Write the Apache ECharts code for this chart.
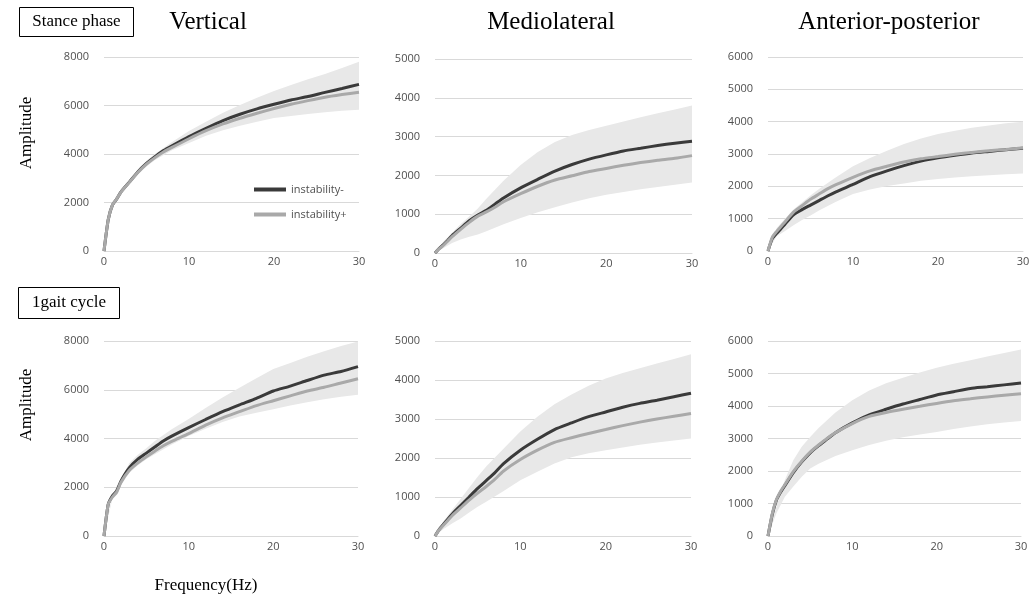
<!DOCTYPE html>
<html>
<head>
<meta charset="utf-8">
<script src="https://cdn.jsdelivr.net/npm/echarts@6/dist/echarts.min.js"></script>
<style>
html,body{margin:0;padding:0;background:#fff;}
#main{width:1036px;height:601px;}
</style>
</head>
<body>
<div id="main"></div>
<script>
// Frequency grid (Hz) for the mean lines
const freq = [0, 0.5, 1, 1.5, 2, 3, 4, 5, 6, 7, 8, 10, 12, 14, 16, 18, 20, 22, 24, 26, 28, 30];
// Frequency grid (Hz) for the shaded band
const bandFreq = [0, 1, 2, 3, 4, 5, 6, 8, 10, 12, 14, 16, 18, 20, 22, 24, 26, 28, 30];

const xTicks = [0, 10, 20, 30];
const colTitles = ['Vertical', 'Mediolateral', 'Anterior-posterior'];
const rowLabels = ['Stance phase', '1gait cycle'];
const seriesNames = ['instability-', 'instability+'];
const yMax = [8000, 5000, 6000];
const yStep = [2000, 1000, 1000];

// Stance phase - Vertical
const stanceVertNeg = [0, 1300, 1900, 2150, 2440, 2850, 3270, 3610, 3890, 4140, 4340, 4720, 5060, 5380, 5640, 5860, 6050, 6230, 6370, 6540, 6700, 6870];
const stanceVertPos = [0, 1300, 1900, 2150, 2430, 2840, 3250, 3580, 3850, 4080, 4270, 4630, 4960, 5240, 5475, 5680, 5875, 6050, 6200, 6340, 6450, 6550];
const stanceVertHi  = [0, 1950, 2500, 2920, 3330, 3720, 4000, 4500, 4950, 5330, 5700, 6020, 6320, 6600, 6850, 7080, 7300, 7550, 7800];
const stanceVertLo  = [0, 1850, 2380, 2780, 3150, 3480, 3750, 4150, 4450, 4750, 4980, 5170, 5330, 5480, 5570, 5650, 5720, 5780, 5820];

// Stance phase - Mediolateral
const stanceMLNeg = [0, 120, 220, 330, 450, 640, 830, 980, 1100, 1260, 1420, 1680, 1900, 2110, 2280, 2420, 2530, 2630, 2700, 2770, 2830, 2880];
const stanceMLPos = [0, 110, 200, 310, 420, 610, 790, 950, 1060, 1180, 1320, 1530, 1720, 1880, 1990, 2100, 2180, 2260, 2330, 2390, 2440, 2510];
const stanceMLHi  = [0, 300, 520, 750, 940, 1150, 1400, 1860, 2270, 2600, 2860, 3040, 3170, 3280, 3390, 3500, 3600, 3700, 3800];
const stanceMLLo  = [0, 130, 260, 350, 420, 480, 560, 740, 900, 1050, 1180, 1300, 1410, 1500, 1570, 1640, 1700, 1760, 1820];

// Stance phase - Anterior-posterior
const stanceAPNeg = [0, 380, 540, 680, 830, 1120, 1280, 1420, 1560, 1700, 1830, 2060, 2300, 2480, 2640, 2780, 2880, 2960, 3030, 3080, 3130, 3180];
const stanceAPPos = [0, 420, 600, 750, 900, 1200, 1400, 1600, 1760, 1920, 2050, 2280, 2480, 2620, 2750, 2850, 2920, 2990, 3050, 3100, 3140, 3190];
const stanceAPHi  = [0, 700, 1000, 1280, 1500, 1720, 1920, 2280, 2620, 2880, 3100, 3310, 3480, 3620, 3720, 3810, 3880, 3950, 4000];
const stanceAPLo  = [0, 450, 620, 800, 960, 1100, 1250, 1520, 1760, 1900, 2010, 2090, 2170, 2230, 2270, 2310, 2340, 2370, 2400];

// 1 gait cycle - Vertical
const gaitVertNeg = [0, 1300, 1650, 1850, 2250, 2800, 3150, 3400, 3650, 3900, 4100, 4450, 4780, 5100, 5380, 5650, 5950, 6150, 6380, 6600, 6750, 6950];
const gaitVertPos = [0, 1300, 1600, 1800, 2200, 2700, 3000, 3250, 3480, 3700, 3880, 4200, 4550, 4850, 5100, 5350, 5550, 5750, 5950, 6100, 6280, 6450];
const gaitVertHi  = [0, 1700, 2350, 3000, 3330, 3600, 3900, 4380, 4800, 5250, 5680, 6080, 6470, 6850, 7100, 7350, 7580, 7790, 7980];
const gaitVertLo  = [0, 1550, 2100, 2600, 2900, 3150, 3350, 3750, 4100, 4400, 4680, 4900, 5060, 5200, 5350, 5490, 5610, 5710, 5790];

// 1 gait cycle - Mediolateral
const gaitMLNeg = [0, 170, 300, 430, 560, 780, 1000, 1220, 1420, 1620, 1850, 2200, 2480, 2730, 2900, 3060, 3180, 3300, 3400, 3480, 3570, 3660];
const gaitMLPos = [0, 160, 280, 400, 520, 720, 920, 1100, 1270, 1450, 1660, 1960, 2200, 2400, 2520, 2630, 2730, 2830, 2920, 3000, 3070, 3140];
const gaitMLHi  = [0, 380, 665, 950, 1240, 1520, 1780, 2230, 2680, 3060, 3380, 3630, 3850, 4040, 4180, 4300, 4420, 4540, 4660];
const gaitMLLo  = [0, 180, 320, 450, 600, 750, 880, 1150, 1430, 1650, 1860, 2020, 2120, 2200, 2270, 2340, 2400, 2450, 2500];

// 1 gait cycle - Anterior-posterior
const gaitAPNeg = [0, 650, 1100, 1350, 1550, 1950, 2280, 2560, 2780, 2980, 3180, 3480, 3730, 3900, 4060, 4200, 4340, 4440, 4540, 4590, 4650, 4710];
const gaitAPPos = [0, 680, 1120, 1380, 1580, 1980, 2300, 2580, 2800, 3000, 3180, 3460, 3680, 3800, 3900, 3990, 4080, 4160, 4220, 4280, 4330, 4380];
const gaitAPHi  = [0, 900, 1720, 2330, 2750, 3050, 3320, 3800, 4180, 4480, 4700, 4870, 5030, 5180, 5300, 5410, 5520, 5630, 5740];
const gaitAPLo  = [0, 700, 1210, 1520, 1820, 2080, 2220, 2460, 2640, 2800, 2930, 3040, 3120, 3200, 3290, 3370, 3440, 3490, 3540];

const panels = [
  {neg: stanceVertNeg, pos: stanceVertPos, hi: stanceVertHi, lo: stanceVertLo, col: 0},
  {neg: stanceMLNeg, pos: stanceMLPos, hi: stanceMLHi, lo: stanceMLLo, col: 1},
  {neg: stanceAPNeg, pos: stanceAPPos, hi: stanceAPHi, lo: stanceAPLo, col: 2},
  {neg: gaitVertNeg, pos: gaitVertPos, hi: gaitVertHi, lo: gaitVertLo, col: 0},
  {neg: gaitMLNeg, pos: gaitMLPos, hi: gaitMLHi, lo: gaitMLLo, col: 1},
  {neg: gaitAPNeg, pos: gaitAPPos, hi: gaitAPHi, lo: gaitAPLo, col: 2}
];

// Layout (pixels)
const gridBoxes = [
  {left: 104, top: 57, width: 255, height: 194},
  {left: 435, top: 59, width: 257, height: 194},
  {left: 768, top: 57, width: 255, height: 194},
  {left: 104, top: 341, width: 254, height: 195},
  {left: 435, top: 341, width: 256, height: 195},
  {left: 768, top: 341, width: 253, height: 195}
];

const AXIS_FONT = 'Open Sans';
const SERIF = 'Liberation Serif';
const TICK_COLOR = '#505050';
const GRID_COLOR = '#d9d9d9';
const NEG_COLOR = '#3a3a3a';
const POS_COLOR = '#a9a9a9';
const BAND_COLOR = '#e8e8e8';

const grids = [], xAxes = [], yAxes = [], series = [];
panels.forEach((p, i) => {
  grids.push(Object.assign({containLabel: false}, gridBoxes[i]));
  xAxes.push({
    type: 'value', gridIndex: i, min: 0, max: 30, interval: 10,
    axisLine: {show: true, lineStyle: {color: GRID_COLOR, width: 1}},
    axisTick: {show: false},
    splitLine: {show: false},
    axisLabel: {color: TICK_COLOR, fontFamily: AXIS_FONT, fontSize: 11, margin: 5,
      formatter: v => xTicks.indexOf(v) >= 0 ? String(v) : ''}
  });
  yAxes.push({
    type: 'value', gridIndex: i, min: 0, max: yMax[p.col], interval: yStep[p.col],
    axisLine: {show: false}, axisTick: {show: false},
    splitLine: {show: true, lineStyle: {color: GRID_COLOR, width: 1}},
    axisLabel: {color: TICK_COLOR, fontFamily: AXIS_FONT, fontSize: 11, margin: 15,
      formatter: v => String(v)}
  });
  const hi = p.hi, lo = p.lo;
  series.push({
    type: 'custom', xAxisIndex: i, yAxisIndex: i, silent: true, z: 1,
    data: [[0, 0]],
    renderItem: function (params, api) {
      const pts = [];
      for (let k = 0; k < bandFreq.length; k++) pts.push(api.coord([bandFreq[k], hi[k]]));
      for (let k = bandFreq.length - 1; k >= 0; k--) pts.push(api.coord([bandFreq[k], lo[k]]));
      return {type: 'polygon', shape: {points: pts}, style: {fill: BAND_COLOR, stroke: 'none'}};
    }
  });
  series.push({
    name: seriesNames[0], type: 'line', xAxisIndex: i, yAxisIndex: i, z: 3,
    data: freq.map((f, k) => [f, p.neg[k]]),
    showSymbol: false, symbol: 'none', smooth: 0.2,
    lineStyle: {color: NEG_COLOR, width: 3}, itemStyle: {color: NEG_COLOR}
  });
  series.push({
    name: seriesNames[1], type: 'line', xAxisIndex: i, yAxisIndex: i, z: 4,
    data: freq.map((f, k) => [f, p.pos[k]]),
    showSymbol: false, symbol: 'none', smooth: 0.2,
    lineStyle: {color: POS_COLOR, width: 3}, itemStyle: {color: POS_COLOR}
  });
});

const graphic = [
  {type: 'rect', shape: {x: 19.5, y: 7.5, width: 114, height: 29}, style: {fill: '#fff', stroke: '#000', lineWidth: 1}},
  {type: 'text', x: 76.5, y: 22, style: {text: rowLabels[0], font: '17px "' + SERIF + '"', fill: '#000', align: 'center', verticalAlign: 'middle'}},
  {type: 'rect', shape: {x: 18.5, y: 287.5, width: 101, height: 31}, style: {fill: '#fff', stroke: '#000', lineWidth: 1}},
  {type: 'text', x: 69, y: 303, style: {text: rowLabels[1], font: '17px "' + SERIF + '"', fill: '#000', align: 'center', verticalAlign: 'middle'}},
  {type: 'text', x: 208, y: 22, style: {text: colTitles[0], font: '25px "' + SERIF + '"', fill: '#000', align: 'center', verticalAlign: 'middle'}},
  {type: 'text', x: 551, y: 22, style: {text: colTitles[1], font: '25px "' + SERIF + '"', fill: '#000', align: 'center', verticalAlign: 'middle'}},
  {type: 'text', x: 889, y: 22, style: {text: colTitles[2], font: '25px "' + SERIF + '"', fill: '#000', align: 'center', verticalAlign: 'middle'}},
  {type: 'text', x: 27, y: 133, rotation: Math.PI / 2, style: {text: 'Amplitude', font: '17px "' + SERIF + '"', fill: '#000', align: 'center', verticalAlign: 'middle'}},
  {type: 'text', x: 27, y: 405, rotation: Math.PI / 2, style: {text: 'Amplitude', font: '17px "' + SERIF + '"', fill: '#000', align: 'center', verticalAlign: 'middle'}},
  {type: 'text', x: 206, y: 586, style: {text: 'Frequency(Hz)', font: '17px "' + SERIF + '"', fill: '#000', align: 'center', verticalAlign: 'middle'}}
];

const chart = echarts.init(document.getElementById('main'), null, {renderer: 'canvas'});
chart.setOption({
  backgroundColor: '#fff',
  animation: false,
  grid: grids,
  xAxis: xAxes,
  yAxis: yAxes,
  legend: {
    data: seriesNames, orient: 'vertical', left: 249, top: 179,
    icon: 'rect', itemWidth: 32, itemHeight: 4, itemGap: 14,
    textStyle: {color: TICK_COLOR, fontFamily: AXIS_FONT, fontSize: 11},
    selectedMode: false
  },
  series: series,
  graphic: graphic
});
</script>
</body>
</html>
